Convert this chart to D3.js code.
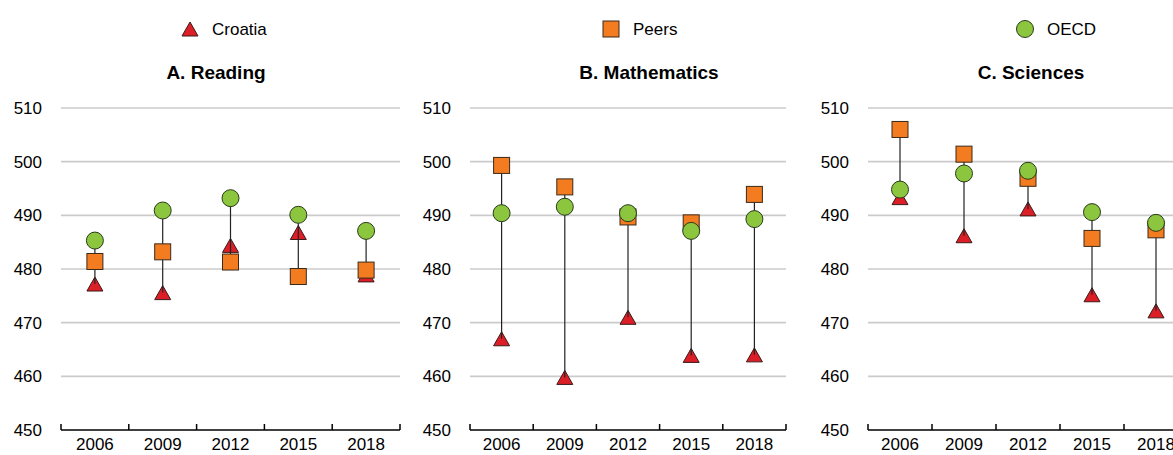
<!DOCTYPE html>
<html>
<head>
<meta charset="utf-8">
<style>
body { margin: 0; background: #fff; }
svg text { font-family: "Liberation Sans Narrow", "Arial Narrow", "Liberation Sans", Arial, sans-serif; fill: #000; }
.tick-label { font-size: 17px; }
.title { font-size: 19px; font-weight: bold; }
.legend-text { font-size: 17px; }
</style>
</head>
<body>
<svg id="chart" width="1173" height="455"></svg>
<script src="https://d3js.org/d3.v7.min.js"></script>
<script>

var years = ["2006", "2009", "2012", "2015", "2018"];
var yTicks = [450, 460, 470, 480, 490, 500, 510];
var seriesNames = ["Croatia", "Peers", "OECD"];
var panelTitles = ["A. Reading", "B. Mathematics", "C. Sciences"];

var readingCroatia = [477.2, 475.6, 484.4, 486.8, 478.9];
var readingPeers   = [481.4, 483.2, 481.3, 478.6, 479.8];
var readingOecd    = [485.3, 490.9, 493.2, 490.1, 487.1];

var mathsCroatia = [467.0, 459.8, 471.0, 463.9, 464.0];
var mathsPeers   = [499.3, 495.3, 489.7, 488.6, 493.9];
var mathsOecd    = [490.4, 491.6, 490.4, 487.1, 489.3];

var sciCroatia = [493.3, 486.2, 491.2, 475.2, 472.2];
var sciPeers   = [506.0, 501.4, 496.9, 485.7, 487.3];
var sciOecd    = [494.8, 497.8, 498.3, 490.6, 488.6];

var colors = { Croatia: "#dc1f26", Peers: "#f47c20", OECD: "#8cc63f" };

var panels = [
  { title: panelTitles[0], croatia: readingCroatia, peers: readingPeers, oecd: readingOecd, left: 61, right: 400, titleX: 216 },
  { title: panelTitles[1], croatia: mathsCroatia, peers: mathsPeers, oecd: mathsOecd, left: 470, right: 786, titleX: 649 },
  { title: panelTitles[2], croatia: sciCroatia, peers: sciPeers, oecd: sciOecd, left: 868, right: 1188, titleX: 1031 }
];

var svg = d3.select("#chart");
var plotTop = 108, plotBottom = 430;

var y = d3.scaleLinear().domain([450, 510]).range([plotBottom, plotTop]);

var triangle = "M0,-7L8,7L-8,7Z";

function drawMarker(g, name, cx, cy) {
  if (name === "Croatia") {
    g.append("path")
      .attr("d", triangle)
      .attr("transform", "translate(" + cx + "," + cy + ")")
      .attr("fill", colors.Croatia)
      .attr("stroke", "#3a1a1a")
      .attr("stroke-width", 1);
  } else if (name === "Peers") {
    g.append("rect")
      .attr("x", cx - 8).attr("y", cy - 8)
      .attr("width", 16).attr("height", 16)
      .attr("fill", colors.Peers)
      .attr("stroke", "#3a2a1a")
      .attr("stroke-width", 1);
  } else {
    g.append("circle")
      .attr("cx", cx).attr("cy", cy)
      .attr("r", 8.5)
      .attr("fill", colors.OECD)
      .attr("stroke", "#2a3a1a")
      .attr("stroke-width", 1);
  }
}

panels.forEach(function(p) {
  var x = d3.scaleBand().domain(years).range([p.left, p.right]);
  var g = svg.append("g");

  // gridlines
  g.selectAll(".grid")
    .data(yTicks.filter(function(d) { return d > 450; }))
    .enter().append("line")
    .attr("x1", p.left).attr("x2", p.right)
    .attr("y1", function(d) { return y(d); })
    .attr("y2", function(d) { return y(d); })
    .attr("stroke", "#cbcbcb")
    .attr("stroke-width", 1.6);

  // y labels
  g.selectAll(".ylab")
    .data(yTicks)
    .enter().append("text")
    .attr("class", "tick-label")
    .attr("x", p.left - 19)
    .attr("y", function(d) { return y(d); })
    .attr("dy", "0.36em")
    .attr("text-anchor", "end")
    .text(function(d) { return d; });

  // x axis
  var xAxis = d3.axisBottom(x).tickSize(0).tickPadding(8);
  var ax = g.append("g")
    .attr("transform", "translate(0," + plotBottom + ")")
    .call(xAxis);
  ax.select(".domain").remove();
  ax.selectAll("text")
    .attr("class", "tick-label")
    .style("font-size", "17px")
    .style("font-family", null)
    .attr("dy", "0.71em");
  ax.attr("font-family", null).attr("font-size", null);

  g.append("line")
    .attr("x1", p.left).attr("x2", p.right)
    .attr("y1", plotBottom).attr("y2", plotBottom)
    .attr("stroke", "#000").attr("stroke-width", 1.5);

  var bounds = years.map(function(d) { return x(d); }).concat([p.right]);
  g.selectAll(".xtick")
    .data(bounds)
    .enter().append("line")
    .attr("x1", function(d) { return d; })
    .attr("x2", function(d) { return d; })
    .attr("y1", plotBottom).attr("y2", plotBottom - 6)
    .attr("stroke", "#000").attr("stroke-width", 1.5);

  // title
  g.append("text")
    .attr("class", "title")
    .attr("x", p.titleX)
    .attr("y", 72)
    .attr("dy", "0.36em")
    .attr("text-anchor", "middle")
    .text(p.title);

  // data
  years.forEach(function(yr, i) {
    var cx = x(yr) + x.bandwidth() / 2;
    var vals = [p.croatia[i], p.peers[i], p.oecd[i]];
    drawMarker(g, "Croatia", cx, y(p.croatia[i]));
    g.append("line")
      .attr("x1", cx).attr("x2", cx)
      .attr("y1", y(d3.min(vals)))
      .attr("y2", y(d3.max(vals)))
      .attr("stroke", "#222")
      .attr("stroke-width", 1.2);
    drawMarker(g, "Peers", cx, y(p.peers[i]));
    drawMarker(g, "OECD", cx, y(p.oecd[i]));
  });
});

// legend
var legendX = [190, 611, 1025];
var legend = svg.append("g");
seriesNames.forEach(function(name, i) {
  drawMarker(legend, name, legendX[i], 29);
  legend.append("text")
    .attr("class", "legend-text")
    .attr("x", legendX[i] + 22)
    .attr("y", 29)
    .attr("dy", "0.36em")
    .text(name);
});

</script>
</body>
</html>
